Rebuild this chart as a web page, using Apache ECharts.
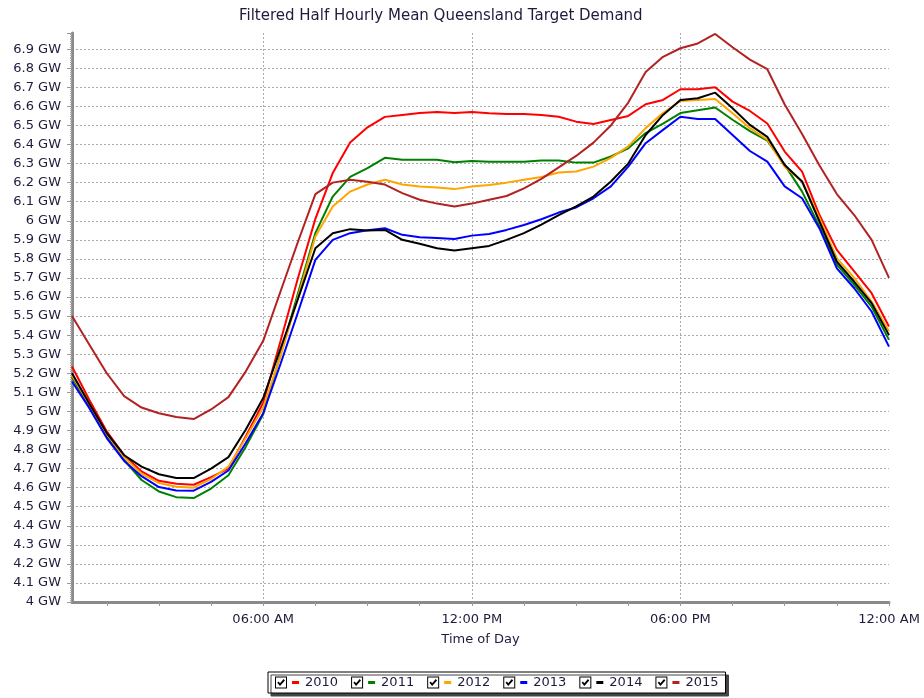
<!DOCTYPE html>
<html>
<head>
<meta charset="utf-8">
<script src="https://cdn.jsdelivr.net/npm/echarts@6/dist/echarts.min.js"></script>
<style>
  html, body { margin: 0; padding: 0; background: #fff; }
  #chart { width: 924px; height: 698px; }
</style>
</head>
<body>
<div id="chart"></div>
<script>
// half hourly slots, 00:30 .. 24:00
const times = []
for (let i = 1; i <= 48; i++) {
  const mins = i * 30
  const h = Math.floor(mins / 60) % 24
  const m = mins % 60
  const h12 = h % 12 === 0 ? 12 : h % 12
  times.push(String(h12).padStart(2, '0') + ':' + String(m).padStart(2, '0') + (h < 12 ? ' AM' : ' PM'))
}
const tickLabels = ['06:00 AM', '12:00 PM', '06:00 PM', '12:00 AM']

const years = ['2010', '2011', '2012', '2013', '2014', '2015']
const colors = ['#ff0000', '#008000', '#ffa500', '#0000ff', '#000000', '#b22222']

// GW
const d2010 = [5.235, 5.06, 4.895, 4.77, 4.685, 4.636, 4.62, 4.615, 4.655, 4.70, 4.87, 5.045,
  5.37, 5.70, 6.01, 6.25, 6.41, 6.49, 6.545, 6.555, 6.565, 6.57, 6.565, 6.57,
  6.564, 6.56, 6.56, 6.555, 6.546, 6.52, 6.508, 6.529, 6.55, 6.611, 6.634, 6.69,
  6.69, 6.70, 6.625, 6.576, 6.51, 6.363, 6.258, 6.03, 5.847, 5.734, 5.62, 5.445]
const d2011 = [5.18, 5.02, 4.87, 4.745, 4.64, 4.58, 4.55, 4.545, 4.595, 4.665, 4.815, 4.985,
  5.30, 5.62, 5.935, 6.127, 6.23, 6.276, 6.33, 6.32, 6.32, 6.32, 6.307, 6.314,
  6.31, 6.31, 6.31, 6.316, 6.316, 6.305, 6.305, 6.337, 6.38, 6.46, 6.51, 6.565,
  6.58, 6.594, 6.53, 6.47, 6.42, 6.293, 6.153, 5.97, 5.77, 5.664, 5.55, 5.375]
const d2012 = [5.19, 5.035, 4.88, 4.76, 4.673, 4.624, 4.605, 4.60, 4.645, 4.71, 4.86, 5.02,
  5.29, 5.60, 5.917, 6.075, 6.153, 6.19, 6.215, 6.19, 6.18, 6.175, 6.166, 6.18,
  6.188, 6.20, 6.215, 6.23, 6.253, 6.258, 6.284, 6.33, 6.39, 6.486, 6.565, 6.628,
  6.634, 6.639, 6.564, 6.486, 6.425, 6.284, 6.206, 6.014, 5.804, 5.70, 5.576, 5.42]
const d2013 = [5.157, 5.017, 4.86, 4.74, 4.66, 4.603, 4.585, 4.584, 4.63, 4.69, 4.834, 4.99,
  5.25, 5.52, 5.795, 5.90, 5.935, 5.95, 5.961, 5.926, 5.914, 5.909, 5.904, 5.922,
  5.931, 5.952, 5.978, 6.008, 6.043, 6.07, 6.118, 6.18, 6.284, 6.407, 6.477, 6.546,
  6.534, 6.534, 6.45, 6.366, 6.31, 6.18, 6.118, 5.96, 5.75, 5.646, 5.524, 5.34]
const d2014 = [5.20, 5.04, 4.886, 4.77, 4.71, 4.67, 4.65, 4.65, 4.70, 4.76, 4.905, 5.07,
  5.33, 5.59, 5.856, 5.935, 5.956, 5.949, 5.952, 5.90, 5.879, 5.856, 5.844, 5.856,
  5.868, 5.90, 5.935, 5.98, 6.03, 6.075, 6.127, 6.206, 6.30, 6.45, 6.555, 6.634,
  6.643, 6.672, 6.59, 6.503, 6.44, 6.293, 6.206, 5.996, 5.786, 5.68, 5.568, 5.40]
const d2015 = [5.50, 5.35, 5.20, 5.08, 5.02, 4.99, 4.97, 4.96, 5.01, 5.075, 5.21, 5.37,
  5.63, 5.89, 6.14, 6.20, 6.215, 6.205, 6.19, 6.145, 6.11, 6.09, 6.075, 6.09,
  6.11, 6.13, 6.17, 6.22, 6.28, 6.34, 6.41, 6.50, 6.62, 6.78, 6.86, 6.905,
  6.93, 6.98, 6.91, 6.845, 6.795, 6.61, 6.455, 6.29, 6.14, 6.03, 5.90, 5.70]
const allData = [d2010, d2011, d2012, d2013, d2014, d2015]

const textColor = '#1c1c3c'
const font = 'DejaVu Sans'

// checkbox with tick, drawn in the legend icon slot
const checkIcon = 'path://M0,0 L12,0 L12,12 L0,12 Z M1,1 L1,11 L11,11 L11,1 Z ' +
  'M2.3,6.2 L3.6,5 L5,6.7 L8.6,2.6 L9.9,3.9 L5,9.4 Z'

const rich = {}
years.forEach((y, i) => {
  rich['d' + i] = { width: 7, height: 3, backgroundColor: colors[i] }
})
rich.t = { fontFamily: font, fontSize: 13, color: textColor, padding: [0, 0, 0, 6] }

const chart = echarts.init(document.getElementById('chart'), null, { renderer: 'canvas' })
chart.setOption({
  animation: false,
  backgroundColor: '#fff',
  title: {
    text: 'Filtered Half Hourly Mean Queensland Target Demand',
    left: 234,
    top: 4,
    textStyle: { fontFamily: font, fontSize: 15, fontWeight: 'normal', color: textColor }
  },
  grid: { left: 72, right: 35, top: 33, bottom: 96, containLabel: false },
  legend: {
    bottom: 5,
    left: 268,
    padding: [4, 7, 4, 7],
    itemGap: 13,
    itemWidth: 12,
    itemHeight: 12,
    icon: checkIcon,
    itemStyle: { color: '#000', borderWidth: 0 },
    backgroundColor: '#fff',
    borderColor: '#000',
    borderWidth: 1,
    shadowColor: '#444',
    shadowBlur: 0,
    shadowOffsetX: 3,
    shadowOffsetY: 3,
    data: years,
    formatter: name => '{d' + years.indexOf(name) + '|}{t|' + name + '}',
    textStyle: { rich: rich, padding: [0, 0, 0, 0] }
  },
  xAxis: {
    type: 'category',
    data: times,
    boundaryGap: false,
    name: 'Time of Day',
    nameLocation: 'middle',
    nameGap: 31,
    nameTextStyle: { fontFamily: font, fontSize: 13, color: textColor },
    axisLine: { lineStyle: { color: '#8a8a8a', width: 3 } },
    axisTick: {
      interval: (i) => i % 3 === 2,
      length: 4,
      lineStyle: { color: '#999' }
    },
    axisLabel: {
      interval: (i, v) => tickLabels.includes(v),
      margin: 11,
      fontFamily: font,
      fontSize: 13,
      color: textColor
    },
    splitLine: {
      show: true,
      interval: (i, v) => tickLabels.includes(v) && i < times.length - 1,
      lineStyle: { color: '#aaa', type: [2, 2], width: 1 }
    }
  },
  yAxis: {
    type: 'value',
    min: 4,
    max: 6.985,
    interval: 0.1,
    axisLine: { show: true, lineStyle: { color: '#8a8a8a', width: 3 } },
    axisTick: { show: true, length: 5, lineStyle: { color: '#999' } },
    minorTick: { show: true, splitNumber: 10, length: 2, lineStyle: { color: '#aaa' } },
    axisLabel: {
      showMaxLabel: false,
      margin: 11,
      fontFamily: font,
      fontSize: 13,
      color: textColor,
      formatter: v => (+v.toFixed(1)) + ' GW'
    },
    splitLine: {
      show: true,
      showMaxLine: false,
      lineStyle: { color: '#aaa', type: [2, 2], width: 1 }
    }
  },
  series: years.map((y, i) => ({
    name: y,
    type: 'line',
    data: allData[i],
    symbol: 'none',
    color: colors[i],
    lineStyle: { width: 2, color: colors[i] }
  }))
})
</script>
</body>
</html>
